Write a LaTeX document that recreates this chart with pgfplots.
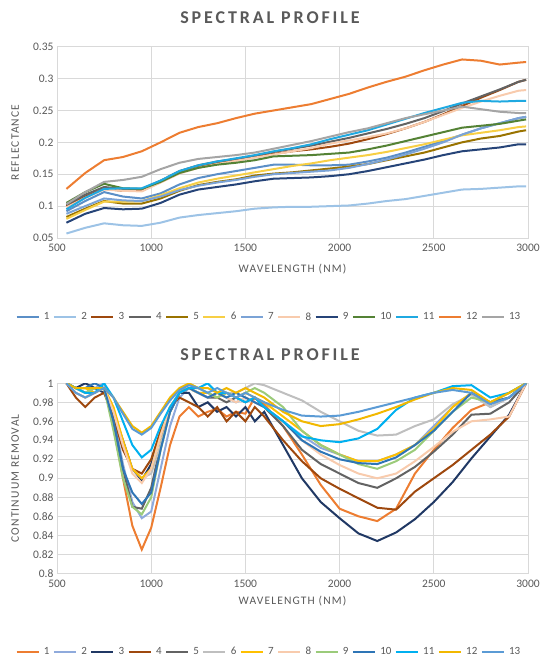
\documentclass[border=0pt]{standalone}
\usepackage{fontspec}
\setmainfont{Carlito}
\usepackage{pgfplots}
\pgfplotsset{compat=1.18}
\usepackage{pgfplotstable}

\definecolor{txt}{HTML}{595959}
\definecolor{gridc}{HTML}{D9D9D9}
% top colours
\definecolor{ta}{HTML}{5B8FC7}
\definecolor{tb}{HTML}{9DC3E6}
\definecolor{tc}{HTML}{9E480E}
\definecolor{td}{HTML}{636363}
\definecolor{te}{HTML}{997300}
\definecolor{tf}{HTML}{F7CF45}
\definecolor{tg}{HTML}{7BA3D6}
\definecolor{th}{HTML}{F8CBAD}
\definecolor{ti}{HTML}{264478}
\definecolor{tj}{HTML}{548235}
\definecolor{tk}{HTML}{1FA9E1}
\definecolor{tl}{HTML}{ED7D31}
\definecolor{tm}{HTML}{A5A5A5}
% bottom colours
\definecolor{ba}{HTML}{ED7D31}
\definecolor{bb}{HTML}{8FAADC}
\definecolor{bc}{HTML}{203864}
\definecolor{bd}{HTML}{9E480E}
\definecolor{be}{HTML}{636363}
\definecolor{bf}{HTML}{BFBFBF}
\definecolor{bg}{HTML}{FFC000}
\definecolor{bh}{HTML}{F8CBAD}
\definecolor{bi}{HTML}{9BCB7A}
\definecolor{bj}{HTML}{2E75B6}
\definecolor{bk}{HTML}{00B0F0}
\definecolor{bl}{HTML}{F2B800}
\definecolor{bm}{HTML}{5B9BD5}

\newcommand\lblfont{\fontsize{11.5}{13}\selectfont\addfontfeatures{LetterSpace=10}}

\pgfplotstableread{
w s1 s2 s3 s4 s5 s6 s7 s8 s9 s10 s11 s12 s13
550 .092 .057 .100 .102 .083 .080 .088 .098 .074 .105 .095 .127 .103
650 .108 .066 .115 .118 .096 .094 .100 .113 .088 .122 .113 .152 .122
750 .122 .073 .127 .130 .108 .107 .112 .126 .097 .135 .127 .172 .138
850 .115 .070 .124 .127 .104 .107 .109 .124 .095 .128 .128 .177 .141
950 .112 .069 .124 .127 .104 .108 .108 .123 .096 .127 .128 .186 .146
1050 .120 .074 .138 .140 .112 .117 .115 .137 .105 .138 .140 .200 .158
1150 .134 .082 .153 .155 .124 .128 .125 .151 .118 .152 .155 .215 .168
1250 .144 .086 .162 .164 .133 .137 .132 .160 .126 .160 .164 .224 .174
1350 .150 .089 .168 .170 .138 .143 .137 .166 .130 .165 .170 .230 .177
1450 .155 .092 .172 .174 .142 .148 .141 .171 .134 .168 .175 .238 .180
1550 .160 .096 .177 .179 .148 .153 .146 .176 .139 .172 .180 .245 .184
1650 .165 .098 .182 .185 .151 .158 .150 .181 .143 .178 .186 .250 .190
1750 .165 .099 .186 .190 .153 .163 .152 .186 .144 .179 .191 .255 .196
1850 .164 .099 .189 .195 .156 .167 .154 .191 .145 .180 .197 .260 .202
1950 .164 .100 .193 .201 .159 .172 .156 .198 .147 .182 .205 .268 .209
2050 .165 .101 .198 .207 .162 .176 .160 .203 .150 .184 .212 .276 .216
2150 .170 .104 .205 .214 .166 .180 .166 .208 .155 .189 .219 .286 .222
2250 .176 .108 .213 .221 .172 .185 .173 .214 .161 .195 .228 .295 .230
2350 .184 .111 .222 .229 .178 .191 .181 .222 .167 .202 .237 .303 .238
2450 .193 .116 .232 .238 .184 .197 .190 .232 .173 .209 .246 .313 .244
2550 .202 .121 .244 .249 .192 .204 .200 .243 .180 .216 .254 .322 .250
2650 .212 .126 .257 .261 .200 .211 .212 .254 .186 .223 .262 .330 .256
2750 .222 .127 .270 .272 .206 .215 .222 .264 .189 .226 .265 .328 .252
2850 .230 .129 .282 .283 .210 .219 .230 .273 .192 .229 .264 .322 .248
2950 .238 .131 .295 .295 .217 .224 .238 .281 .197 .234 .265 .325 .246
2990 .240 .131 .298 .298 .219 .225 .240 .282 .197 .236 .265 .326 .246
}\toptab

\pgfplotstableread{
w b1 b2 b3 b4 b5 b6 b7 b8 b9 b10 b11 b12 b13
550 1.0 1.0 1.0 1.0 1.0 1.0 1.0 1.0 1.0 1.0 1.0 1.0 1.0
600 .99 .995 .995 .985 .995 .995 .995 .99 .995 .995 .995 .995 .99
650 .985 .99 1.0 .975 .99 .99 .995 .985 .99 .995 .99 .995 .985
700 .99 .995 .995 .985 .995 .995 .99 .99 .995 1.0 .99 .995 .99
750 .995 1.0 .99 .99 .995 .995 .995 .995 .995 .995 1.0 .995 .995
800 .955 .965 .97 .965 .96 .97 .975 .97 .95 .96 .985 .985 .985
850 .9 .915 .94 .93 .91 .935 .94 .935 .9 .91 .96 .97 .968
900 .85 .875 .91 .91 .87 .91 .91 .905 .87 .885 .935 .955 .952
950 .825 .858 .898 .905 .868 .9 .9 .895 .862 .873 .922 .948 .946
1000 .848 .865 .915 .92 .89 .905 .91 .91 .88 .885 .93 .955 .953
1050 .89 .91 .945 .95 .935 .935 .945 .945 .93 .93 .955 .97 .968
1100 .935 .955 .97 .975 .97 .97 .975 .975 .97 .97 .975 .985 .982
1150 .965 .985 .99 .985 .99 .99 .99 .99 .99 .99 .99 .995 .993
1200 .975 .995 .99 .98 .995 .995 .995 .995 1.0 .995 .995 1.0 .998
1250 .965 .99 .975 .975 .99 .99 .99 .99 .995 .99 .995 .995 .995
1300 .97 .985 .98 .965 .985 .99 .99 .985 .99 .985 1.0 .995 .99
1350 .973 .99 .97 .975 .985 .985 .985 .99 .985 .99 .99 .99 .995
1400 .965 .985 .975 .96 .98 .99 .99 .985 .99 .985 .99 .995 .99
1450 .97 .98 .965 .97 .985 .99 .985 .98 .985 .99 .985 .99 .985
1500 .968 .985 .975 .96 .98 .995 .99 .985 .99 .985 .98 .995 .99
1550 .985 .98 .96 .975 .985 1.0 .985 .98 .995 .98 .985 .99 .985
1600 .978 .975 .97 .965 .975 .998 .98 .975 .99 .975 .975 .985 .98
1700 .955 .96 .935 .94 .955 .99 .965 .96 .975 .96 .96 .97 .972
1800 .925 .945 .9 .918 .93 .982 .95 .94 .95 .94 .944 .96 .966
1900 .893 .932 .875 .9 .915 .97 .935 .925 .935 .928 .94 .955 .965
2000 .868 .925 .858 .889 .905 .96 .925 .914 .925 .92 .938 .957 .966
2100 .86 .918 .842 .879 .895 .95 .918 .905 .915 .916 .942 .962 .97
2200 .855 .918 .834 .869 .89 .945 .918 .9 .91 .915 .952 .968 .975
2300 .868 .925 .843 .867 .9 .946 .925 .905 .918 .922 .972 .975 .98
2400 .905 .935 .857 .886 .912 .955 .935 .918 .93 .935 .985 .983 .985
2500 .93 .955 .875 .9 .928 .962 .952 .933 .95 .95 .99 .99 .99
2600 .953 .975 .896 .914 .946 .978 .975 .949 .97 .97 .997 .995 .993
2700 .972 .99 .921 .93 .967 .988 .99 .96 .985 .99 .998 .993 .99
2800 .98 .975 .944 .946 .968 .975 .98 .962 .98 .98 .985 .98 .978
2900 .985 .985 .967 .965 .98 .985 .99 .965 .99 .985 .99 .99 .985
2990 1.0 1.0 1.0 1.0 1.0 1.0 1.0 1.0 1.0 1.0 1.0 1.0 1.0
}\bottab

\pgfplotsset{
  legend image code/.code={\draw[#1] (0pt,0pt) -- (22pt,0pt);},
  spec/.style={
    scale only axis, width=471pt,
    xmin=500, xmax=3000, xtick={500,1000,1500,2000,2500,3000},
    grid=major, grid style={draw=gridc, line width=0.7pt},
    axis line style={draw=gridc, line width=0.7pt},
    major tick length=0pt,
    tick label style={font=\fontsize{11.5}{13}\selectfont, text=txt},
    /pgf/number format/assume math mode=true,
    xticklabel style={/pgf/number format/1000 sep={}, yshift=-3pt},
    yticklabel style={/pgf/number format/fixed, /pgf/number format/precision=2},
    xlabel={WAVELENGTH (NM)},
    every axis y label/.style={at={(axis description cs:-0.089,0.5)}, rotate=90, anchor=center, font=\lblfont, text=txt},
    legend columns=13,
    legend cell align=left,
    legend style={draw=none, fill=none, font=\fontsize{11}{13}\selectfont, text=txt,
      at={(0.45,-0.413)}, anchor=center,
      /tikz/every even column/.append style={column sep=1.5pt},
      /tikz/every odd column/.append style={column sep=2.3pt}},
    every axis plot/.append style={line width=2pt, mark=none},
  }
}

\begin{document}
\begin{tikzpicture}
\path[use as bounding box] (0,0) rectangle (539pt,-661pt);
\node[font=\bfseries\fontsize{18}{21}\selectfont\addfontfeatures{LetterSpace=16}, text=txt] at (270pt,-18pt) {SPECTRAL PROFILE};
\node[font=\bfseries\fontsize{18}{21}\selectfont\addfontfeatures{LetterSpace=16}, text=txt] at (270pt,-355pt) {SPECTRAL PROFILE};

\begin{axis}[spec, at={(57pt,-238pt)}, anchor=south west, height=191.3pt,
  ymin=0.05, ymax=0.35, ytick={0.05,0.1,0.15,0.2,0.25,0.3,0.35},
  ylabel={REFLECTANCE},
  every axis x label/.style={at={(axis description cs:0.5,-0.162)}, anchor=center, font=\lblfont, text=txt}]
\addplot[color=ta] table[x=w,y=s1]{\toptab};
\addplot[color=tb] table[x=w,y=s2]{\toptab};
\addplot[color=tc] table[x=w,y=s3]{\toptab};
\addplot[color=td] table[x=w,y=s4]{\toptab};
\addplot[color=te] table[x=w,y=s5]{\toptab};
\addplot[color=tf] table[x=w,y=s6]{\toptab};
\addplot[color=tg] table[x=w,y=s7]{\toptab};
\addplot[color=th] table[x=w,y=s8]{\toptab};
\addplot[color=ti] table[x=w,y=s9]{\toptab};
\addplot[color=tj] table[x=w,y=s10]{\toptab};
\addplot[color=tk] table[x=w,y=s11]{\toptab};
\addplot[color=tl] table[x=w,y=s12]{\toptab};
\addplot[color=tm] table[x=w,y=s13]{\toptab};
\legend{1,2,3,4,5,6,7,8,9,10,11,12,13}
\end{axis}

\begin{axis}[spec, at={(57pt,-573.3pt)}, anchor=south west, height=190pt,
  ymin=0.8, ymax=1, ytick={0.8,0.82,...,1.001},
  ylabel={CONTINUUM REMOVAL},
  every axis x label/.style={at={(axis description cs:0.5,-0.146)}, anchor=center, font=\lblfont, text=txt}]
\addplot[color=ba] table[x=w,y=b1]{\bottab};
\addplot[color=bb] table[x=w,y=b2]{\bottab};
\addplot[color=bc] table[x=w,y=b3]{\bottab};
\addplot[color=bd] table[x=w,y=b4]{\bottab};
\addplot[color=be] table[x=w,y=b5]{\bottab};
\addplot[color=bf] table[x=w,y=b6]{\bottab};
\addplot[color=bg] table[x=w,y=b7]{\bottab};
\addplot[color=bh] table[x=w,y=b8]{\bottab};
\addplot[color=bi] table[x=w,y=b9]{\bottab};
\addplot[color=bj] table[x=w,y=b10]{\bottab};
\addplot[color=bk] table[x=w,y=b11]{\bottab};
\addplot[color=bl] table[x=w,y=b12]{\bottab};
\addplot[color=bm] table[x=w,y=b13]{\bottab};
\legend{1,2,3,4,5,6,7,8,9,10,11,12,13}
\end{axis}
\end{tikzpicture}
\end{document}
